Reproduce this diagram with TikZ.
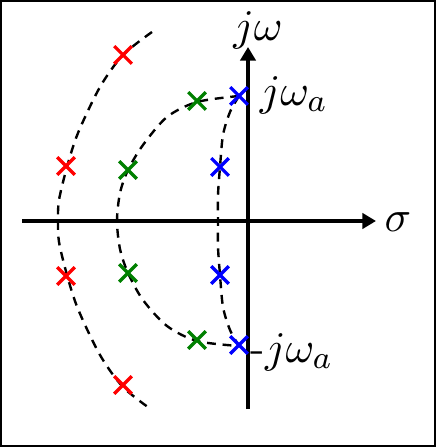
\documentclass[tikz,border=0pt]{standalone}
\usetikzlibrary{arrows.meta,shapes.misc}
\begin{document}
\begin{tikzpicture}[x=0.25pt,y=-0.25pt,
  axis/.style={line width=0.85pt,-{Triangle[length=3.4pt,width=3.8pt]}},
  locus/.style={line width=0.6pt,dash pattern=on 2.2pt off 1.7pt},
  pole/.style={cross out,draw=#1,line width=0.8pt,minimum size=3.6pt,inner sep=0pt},
  lbl/.style={inner sep=0pt,font=\fontsize{11}{13}\selectfont}]
\useasboundingbox (0,0) rectangle (436,447);
\draw[line width=0.5pt] (1,1) rectangle (435,446);
% loci
\draw[locus] plot[smooth] coordinates {(152,32) (123,55) (100,87) (78,133) (67,167) (59,200) (58,221) (59,242) (67,275) (78,309) (100,355) (123,387) (152,410)};
\draw[locus] plot[smooth] coordinates {(239,96) (197,102) (167,117) (143,145) (128,170) (120,193) (117,221) (120,249) (128,273) (143,300) (167,326) (197,341) (239,346)};
\draw[locus] plot[smooth] coordinates {(239,96) (230,112) (223,135) (220,167) (218,195) (218,221) (218,247) (220,275) (223,307) (230,330) (239,346)};
% axes
\coordinate (xl) at (22,221);
\coordinate (xr) at (376,221);
\coordinate (yb) at (248,409);
\coordinate (yt) at (248,47);
\draw[axis] (xl) -- (xr);
\draw[axis] (yb) -- (yt);
% labels
\node[lbl] (jw) at (258,30) {$j\omega$};
\node[lbl] (sig) at (398,222) {$\sigma$};
\node[lbl,anchor=west] (jwa) at (259,95) {$j\omega_a$};
\node[lbl,anchor=west] (mjwa) at (250,352) {$\mbox{-}j\omega_a$};
% poles
\node[pole=red] (r1) at (123,55) {};
\node[pole=red] (r2) at (66,166) {};
\node[pole=red] (r3) at (66,276) {};
\node[pole=red] (r4) at (123,385) {};
\node[pole={green!50!black}] (g1) at (197,101) {};
\node[pole={green!50!black}] (g2) at (128,170) {};
\node[pole={green!50!black}] (g3) at (128,273) {};
\node[pole={green!50!black}] (g4) at (197,340) {};
\node[pole=blue] (b1) at (239,96) {};
\node[pole=blue] (b2) at (220,167) {};
\node[pole=blue] (b3) at (220,275) {};
\node[pole=blue] (b4) at (239,345) {};
\end{tikzpicture}
\end{document}
